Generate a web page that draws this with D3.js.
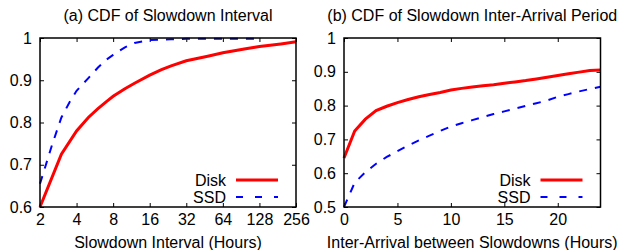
<!DOCTYPE html>
<html>
<head>
<meta charset="utf-8">
<script src="https://cdn.jsdelivr.net/npm/d3@7"></script>
<style>
  body { margin: 0; background: #fff; }
  text { font-family: "Liberation Sans", Arial, sans-serif; fill: #000; }
</style>
</head>
<body>
<script>
const width = 621;
const height = 250;

// (a) slowdown interval, hours
const intervalHours = [2, 3, 4, 5, 6, 7, 8, 10, 12, 16, 20, 24, 32, 48, 64, 96, 128, 192, 256];
const intervalDisk  = [0.600, 0.725, 0.780, 0.812, 0.833, 0.849, 0.862, 0.880, 0.893, 0.912, 0.925, 0.934, 0.946, 0.957, 0.965, 0.974, 0.980, 0.986, 0.991];
const ssdHours      = [2, 2.5, 3, 3.5, 4, 5, 6, 7, 8, 10, 12, 16, 24, 32, 64, 128];
const intervalSsd   = [0.655, 0.745, 0.812, 0.848, 0.875, 0.905, 0.930, 0.948, 0.960, 0.978, 0.988, 0.995, 0.997, 0.998, 0.998, 0.998];
const intervalTicks = [2, 4, 8, 16, 32, 64, 128, 256];
const intervalYTicks = [0.6, 0.7, 0.8, 0.9, 1];

// (b) inter-arrival period, hours
const arrivalHours = [0, 1, 2, 3, 4, 5, 6, 7, 8, 9, 10, 11, 12, 13, 14, 15, 16, 17, 18, 19, 20, 21, 22, 23, 24];
const arrivalDisk  = [0.645, 0.725, 0.760, 0.785, 0.798, 0.809, 0.818, 0.826, 0.833, 0.839, 0.846, 0.851, 0.855, 0.859, 0.862, 0.866, 0.870, 0.874, 0.879, 0.884, 0.889, 0.894, 0.899, 0.904, 0.905];
const arrivalSsd   = [0.500, 0.572, 0.603, 0.628, 0.648, 0.665, 0.682, 0.697, 0.711, 0.725, 0.738, 0.748, 0.757, 0.766, 0.775, 0.783, 0.791, 0.799, 0.807, 0.815, 0.826, 0.834, 0.842, 0.849, 0.856];
const arrivalTicks = [0, 5, 10, 15, 20];
const arrivalYTicks = [0.5, 0.6, 0.7, 0.8, 0.9, 1];

const svg = d3.select('body')
  .append('svg')
    .attr('width', width)
    .attr('height', height);

const panel = (opt) => {
  const { left, right, top, bottom } = opt;
  const g = svg.append('g');

  const x = opt.x.range([left, right]);
  const y = d3.scaleLinear().domain(opt.yDomain).range([bottom, top]);

  const fmtY = (d) => (d === 1 ? '1' : d3.format('.1f')(d));

  const axisStyle = (sel) => {
    sel.select('.domain').remove();
    sel.selectAll('line').attr('stroke', '#000');
    sel.selectAll('text').attr('font-size', 16).attr('font-family', '"Liberation Sans", Arial, sans-serif');
  };

  g.append('g')
    .attr('transform', `translate(0,${bottom})`)
    .call(d3.axisBottom(x).tickValues(opt.xTicks).tickSizeInner(-4).tickSizeOuter(0).tickPadding(7).tickFormat(d => d))
    .call(axisStyle);
  g.append('g')
    .attr('transform', `translate(0,${top})`)
    .call(d3.axisTop(x).tickValues(opt.xTicks).tickSizeInner(-4).tickSizeOuter(0).tickFormat(''))
    .call(axisStyle);
  g.append('g')
    .attr('transform', `translate(${left},0)`)
    .call(d3.axisLeft(y).tickValues(opt.yTicks).tickSizeInner(-4).tickSizeOuter(0).tickPadding(8).tickFormat(fmtY))
    .call(axisStyle);
  g.append('g')
    .attr('transform', `translate(${right},0)`)
    .call(d3.axisRight(y).tickValues(opt.yTicks).tickSizeInner(-4).tickSizeOuter(0).tickFormat(''))
    .call(axisStyle);

  const line = d3.line()
    .x(d => x(d[0]))
    .y(d => y(d[1]));

  g.append('path')
    .datum(d3.zip(opt.ssdX, opt.ssdY))
    .attr('fill', 'none')
    .attr('stroke', '#0000ff')
    .attr('stroke-width', 2)
    .attr('stroke-dasharray', '8,8')
    .attr('d', line);

  g.append('path')
    .datum(d3.zip(opt.diskX, opt.diskY))
    .attr('fill', 'none')
    .attr('stroke', '#ff0000')
    .attr('stroke-width', 3)
    .attr('d', line);

  g.append('rect')
    .attr('x', left)
    .attr('y', top)
    .attr('width', right - left)
    .attr('height', bottom - top)
    .attr('fill', 'none')
    .attr('stroke', '#000')
    .attr('stroke-width', 1.5);

  // legend
  const lx = right - 60;
  [['Disk', '#ff0000', 3, null, 180], ['SSD', '#0000ff', 2, '7,12', 197]].forEach(([name, c, w, dash, ly]) => {
    g.append('text')
      .attr('x', lx - 10)
      .attr('y', ly + 6)
      .attr('text-anchor', 'end')
      .attr('font-size', 16)
      .text(name);
    g.append('line')
      .attr('x1', lx)
      .attr('x2', right - 18)
      .attr('y1', ly)
      .attr('y2', ly)
      .attr('stroke', c)
      .attr('stroke-width', w)
      .attr('stroke-dasharray', dash);
  });

  g.append('text')
    .attr('x', (left + right) / 2)
    .attr('y', 21)
    .attr('text-anchor', 'middle')
    .attr('font-size', 16)
    .text(opt.title);

  g.append('text')
    .attr('x', (left + right) / 2)
    .attr('y', 248)
    .attr('text-anchor', 'middle')
    .attr('font-size', 16)
    .text(opt.xLabel);
};

panel({
  left: 40, right: 296, top: 38, bottom: 207,
  x: d3.scaleLog().base(2).domain([2, 256]),
  yDomain: [0.6, 1],
  xTicks: intervalTicks,
  yTicks: intervalYTicks,
  diskX: intervalHours, diskY: intervalDisk,
  ssdX: ssdHours, ssdY: intervalSsd,
  title: '(a) CDF of Slowdown Interval',
  xLabel: 'Slowdown Interval (Hours)',
});

panel({
  left: 344, right: 600.5, top: 38, bottom: 207,
  x: d3.scaleLinear().domain([0, 24]),
  yDomain: [0.5, 1],
  xTicks: arrivalTicks,
  yTicks: arrivalYTicks,
  diskX: arrivalHours, diskY: arrivalDisk,
  ssdX: arrivalHours, ssdY: arrivalSsd,
  title: '(b) CDF of Slowdown Inter-Arrival Period',
  xLabel: 'Inter-Arrival between Slowdowns (Hours)',
});
</script>
</body>
</html>
